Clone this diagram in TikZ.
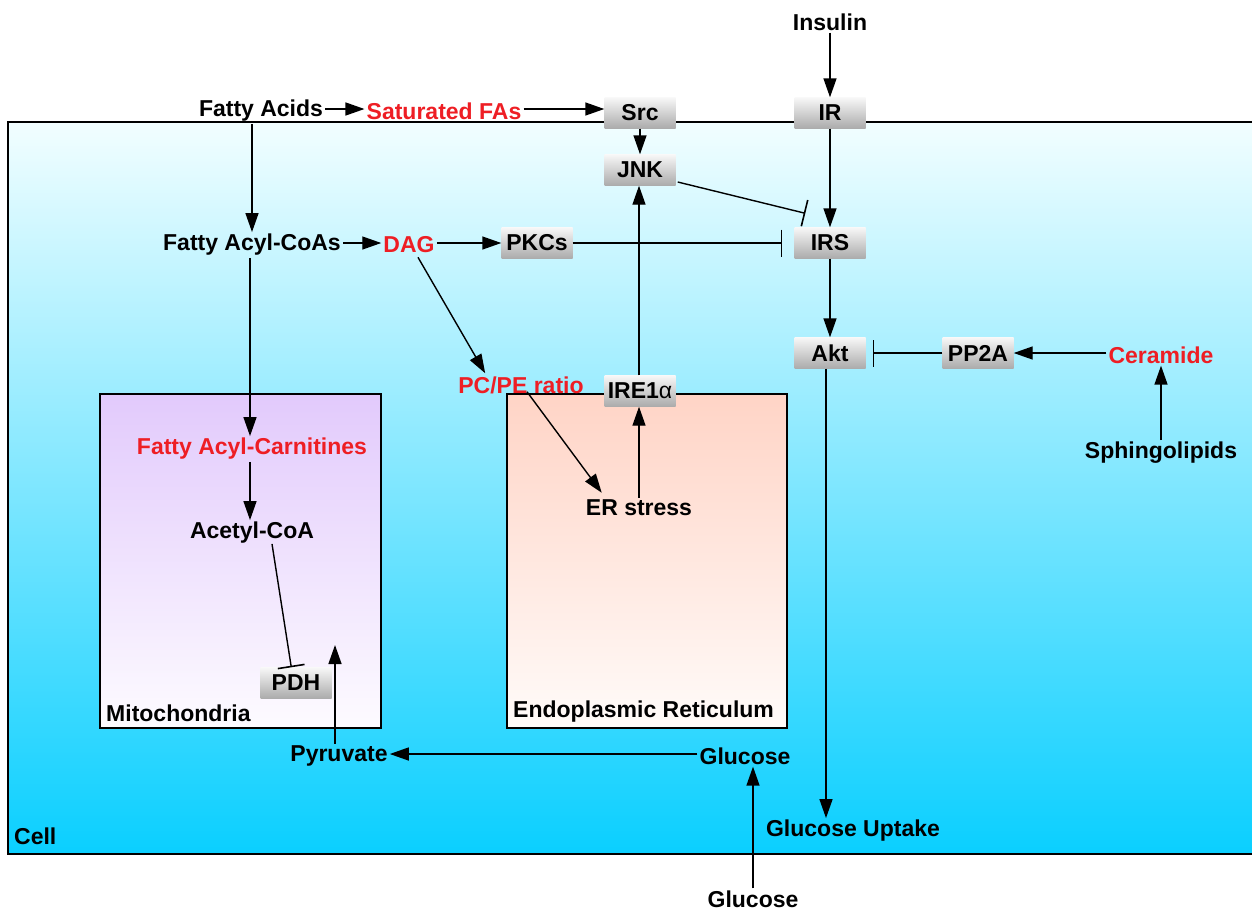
\documentclass[tikz,border=0pt]{standalone}
\usepackage{fontspec}
\setmainfont{Liberation Sans}
\usetikzlibrary{arrows.meta,calc}
\definecolor{tred}{RGB}{238,30,36}
\begin{document}
\begin{tikzpicture}[x=1pt,y=-1pt,
  every node/.style={inner sep=2pt,font=\bfseries\fontsize{23}{27}\selectfont},
  lab/.style={yshift=-2pt},
  pbox/.style={minimum width=71pt,minimum height=31pt,inner sep=0pt,top color=gray!6,bottom color=gray!66},
  redt/.style={lab,text=tred},
  act/.style={line width=1.4pt,-{Triangle[length=19pt,width=13pt]}},
  inh/.style={line width=1.4pt,-{Bar[width=27pt,line width=1.6pt]}}]
\useasboundingbox (0,0) rectangle (1252,911);
% compartments
\draw[line width=2pt,top color={rgb,255:red,242;green,254;blue,255},bottom color={rgb,255:red,10;green,207;blue,255}] (8,122) rectangle (1266,854);
\draw[line width=1.5pt,top color={rgb,255:red,226;green,202;blue,252},bottom color={rgb,255:red,253;green,251;blue,255}] (100,394) rectangle (381,728);
\draw[line width=1.5pt,top color={rgb,255:red,255;green,212;blue,198},bottom color={rgb,255:red,255;green,251;blue,249}] (507,394) rectangle (787,728);
\node[lab,anchor=west] (celllab) at (12,834) {Cell};
\node[lab,anchor=west] (mitolab) at (104,711) {Mitochondria};
\node[lab,anchor=west] (erlab) at (511,710) {Endoplasmic Reticulum};
% protein boxes
\node[pbox] (src) at (640,113) {Src};
\node[pbox] (ir) at (830,113) {IR};
\node[pbox] (jnk) at (640,170) {JNK};
\node[pbox] (pkcs) at (537,243) {PKCs};
\node[pbox] (irs) at (830,243) {IRS};
\node[pbox] (akt) at (830,353) {Akt};
\node[pbox] (pp2a) at (978,353) {PP2A};
\node[pbox] (ire) at (640,391) {IRE1{\mdseries α}};
\node[pbox] (pdh) at (296,683) {PDH};
% labels
\node[lab] (ins) at (830,20) {Insulin};
\node[lab] (fa) at (261,109) {Fatty Acids};
\node[redt] (sfa) at (444,109) {Saturated FAs};
\node[lab] (fac) at (252,243) {Fatty Acyl-CoAs};
\node[redt] (dag) at (409,243) {DAG};
\node[redt] (cer) at (1161,353) {Ceramide};
\node[lab] (sph) at (1161,451) {Sphingolipids};
\node[redt] (pcpe) at (521,383) {PC/PE ratio};
\node[lab] (ers) at (639,506) {ER stress};
\node[redt] (fcar) at (252,447) {Fatty Acyl-Carnitines};
\node[lab] (acoa) at (252,531) {Acetyl-CoA};
\node[lab] (pyr) at (339,754) {Pyruvate};
\node[lab] (glc) at (745,754) {Glucose};
\node[lab] (gu) at (853,829) {Glucose Uptake};
\node[lab] (glcb) at (753,897) {Glucose};
\coordinate (pyrend) at (335,645);
% connectors
\draw[act] (ins) -- (ir);
\draw[act] (fa.east |- 0,109) -- (sfa.west |- 0,109);
\draw[act] (sfa.east |- 0,109) -- (src.west |- 0,109);
\draw[act] (src) -- (jnk);
\draw[act] (ir) -- (irs);
\draw[inh] ($(jnk.east)+(2,12)$) -- ($(irs.north west)+(11,-14)$);
\draw[act] (fa.south -| fac.north) -- (fac.north);
\draw[act] (fac.east |- 0,243) -- (dag.west |- 0,243);
\draw[act] (dag.east |- pkcs.west) -- (pkcs.west);
\draw[inh] (pkcs.east) -- ([xshift=-12]irs.west);
\draw[act] (irs) -- (akt);
\draw[inh] (pp2a.west) -- ([xshift=7]akt.east);
\draw[act] (cer.west |- pp2a.east) -- (pp2a.east);
\draw[act] (sph.north) -- (cer.south);
\draw[act] ($(dag.south)+(9,2)$) -- ($(pcpe.north west)+(29,-1)$);
\draw[act] ($(pcpe.south)+(6,-4)$) -- ($(ers.north west)+(18,-5)$);
\draw[act] (ers.north) -- (ers.north |- ire.south);
\draw[act] (ire.north -| 639,0) -- (jnk.south -| 639,0);
\draw[act] (fac.south -| 250,0) -- (fcar.north -| 250,0);
\draw[act] (fcar.south -| 250,0) -- (acoa.north -| 250,0);
\draw[inh] ($(acoa.south)+(20,-2)$) -- ($(pdh.north west)+(31,0)$);
\draw[act] (pyr.north -| pyrend) -- (pyrend);
\draw[act] (glc.west |- 0,754) -- (pyr.east |- 0,754);
\draw[act] (glcb.north) -- (glcb.north |- glc.south);
\draw[act] ([xshift=-4]akt.south) -- ([xshift=-4]akt.south |- gu.north);
\end{tikzpicture}
\end{document}
